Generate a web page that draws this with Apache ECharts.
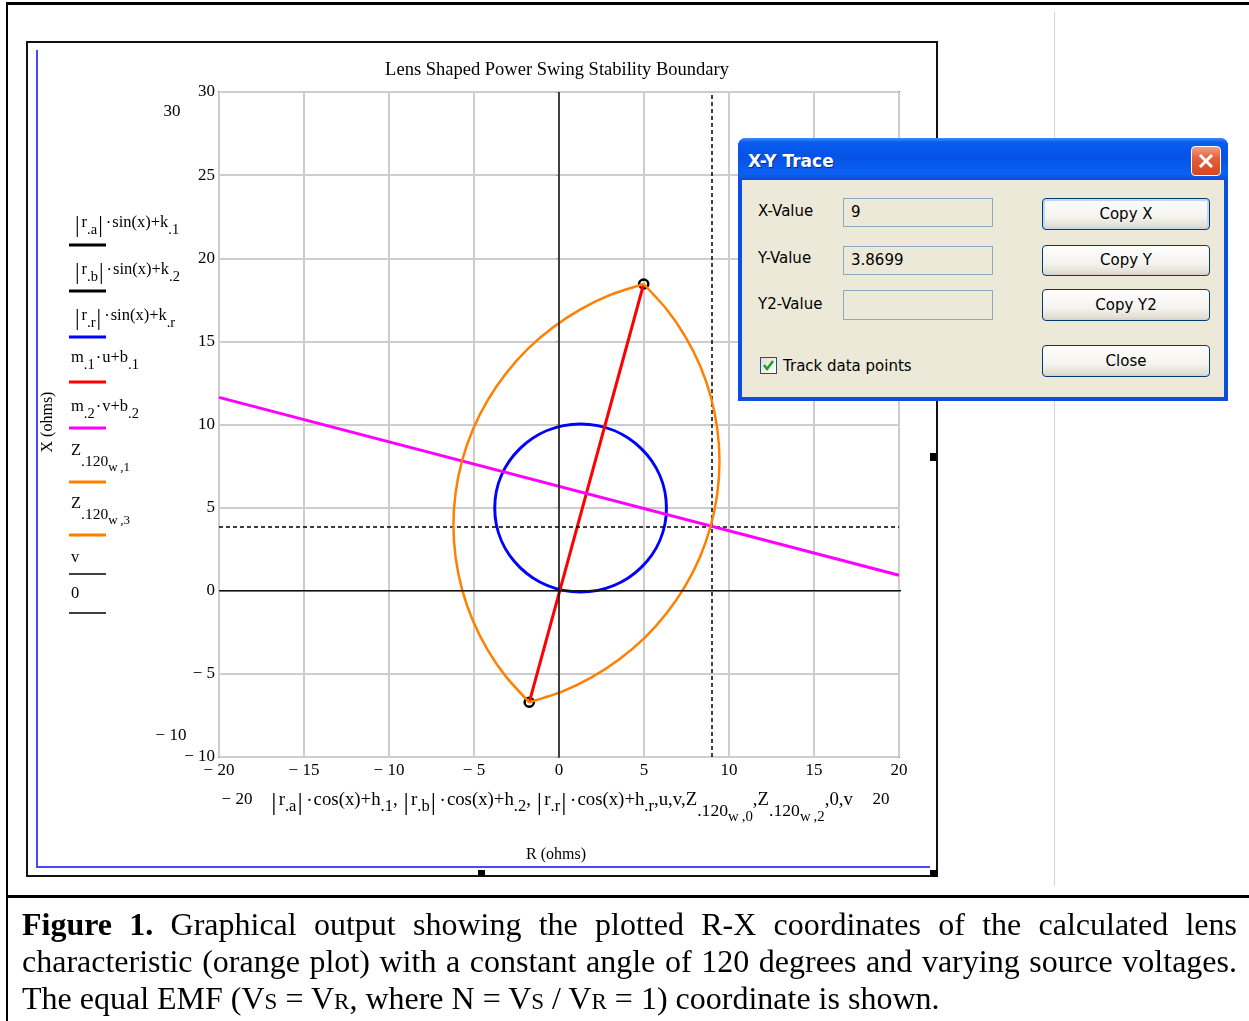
<!DOCTYPE html>
<html><head><meta charset="utf-8">
<script src="https://cdn.jsdelivr.net/npm/echarts@6/dist/echarts.min.js"></script>
<style>
html,body{margin:0;padding:0;background:#fff;width:1249px;height:1021px;overflow:hidden;}
#chart{position:absolute;left:0;top:0;width:1249px;height:1021px;}
#cap{position:absolute;left:22px;top:906px;width:1215px;font-family:'Liberation Serif','Times New Roman',serif;font-size:32px;color:#000;}
#cap .ln{height:37px;line-height:37px;white-space:nowrap;}
#cap .j{text-align:justify;text-align-last:justify;}
#cap .sc{font-size:0.72em;}
#dlg{position:absolute;left:738px;top:138px;width:490px;height:263px;background:#0b4fe0;border-radius:8px 8px 0 0;font-family:'DejaVu Sans',Tahoma,sans-serif;font-size:15px;color:#000;}
#dlg .tb{position:absolute;left:0;top:0;width:490px;height:42px;border-radius:8px 8px 0 0;
 background:linear-gradient(to bottom,#3d8cff 0%,#0a5cf0 10%,#0553e6 45%,#0b61f3 85%,#0a4ed8 100%);}
#dlg .tt{position:absolute;left:10px;top:13px;color:#fff;font-weight:bold;font-size:17px;text-shadow:1px 1px 0 #0a2a90;}
#dlg .cls{position:absolute;left:453px;top:8px;width:28px;height:28px;border:1px solid #fff;border-radius:4px;
 background:linear-gradient(to bottom,#f0a080 0%,#e3603a 40%,#d4481e 100%);}
#dlg .body{position:absolute;left:4px;top:42px;width:482px;height:217px;background:#ece9d8;}
#dlg .lbl{position:absolute;left:20px;line-height:20px;}
#dlg .box{position:absolute;left:105px;width:150px;border:1px solid #8fa8c8;background:#ece9d8;line-height:27px;padding-left:7px;box-sizing:border-box;}
#dlg .btn{position:absolute;left:304px;width:168px;border:1px solid #003c74;border-radius:4px;box-sizing:border-box;text-align:center;
 background:linear-gradient(to bottom,#ffffff 0%,#f4f3ee 60%,#e3e0d5 90%,#d6d0c5 100%);}
#dlg .chk{position:absolute;left:22px;top:219px;width:17px;height:17px;border:1px solid #1c5180;box-sizing:border-box;background:linear-gradient(135deg,#dcdcd7,#fff);}
</style></head>
<body>
<div id="chart"></div>
<div id="dlg">
 <div class="tb"><span class="tt">X-Y Trace</span>
  <div class="cls"><svg width="28" height="28"><line x1="8" y1="8" x2="20" y2="20" stroke="#fff" stroke-width="3"/><line x1="20" y1="8" x2="8" y2="20" stroke="#fff" stroke-width="3"/></svg></div>
 </div>
 <div class="body"></div>
 <div class="lbl" style="top:63px">X-Value</div>
 <div class="lbl" style="top:110px">Y-Value</div>
 <div class="lbl" style="top:156px">Y2-Value</div>
 <div class="box" style="top:60px;height:29px">9</div>
 <div class="box" style="top:108px;height:29px">3.8699</div>
 <div class="box" style="top:152px;height:30px"></div>
 <div class="btn" style="top:60px;height:32px;line-height:30px;box-shadow:inset 0 0 0 2px #c2d6f5;">Copy X</div>
 <div class="btn" style="top:107px;height:31px;line-height:29px;">Copy Y</div>
 <div class="btn" style="top:151px;height:32px;line-height:30px;">Copy Y2</div>
 <div class="btn" style="top:207px;height:32px;line-height:30px;">Close</div>
 <div class="chk"><svg width="15" height="15"><polyline points="3,7 6,11 12,3" fill="none" stroke="#21a121" stroke-width="2.5"/></svg></div>
 <div class="lbl" style="left:45px;top:218px">Track data points</div>
</div>
<div id="cap">
 <div class="ln j"><b>Figure 1.</b> Graphical output showing the plotted R-X coordinates of the calculated lens</div>
 <div class="ln j">characteristic (orange plot) with a constant angle of 120 degrees and varying source voltages.</div>
 <div class="ln">The equal EMF (V<span class="sc">S</span> = V<span class="sc">R</span>, where N = V<span class="sc">S</span> / V<span class="sc">R</span> = 1) coordinate is shown.</div>
</div>
<script>
// ---------------- data ----------------
const xRange = [-20, 20];
const yRange = [-10, 30];
const tickStep = 5;
// small end circles |r_a|, |r_b| and the blue circle |r_r| : [h, k, r]
const circleA = [-1.75, -6.71, 0.27];
const circleB = [4.98, 18.45, 0.27];
const circleR = [1.27, 4.98, 5.05];
// red line m1*u+b1
const redU = [-1.75, 4.98];
const redY = [-6.71, 18.45];
// magenta line m2*v+b2
const magV = [-20, 20];
const magY = [11.63, 0.93];
// orange lens, left arc (Z.120 w,0 ; Z.120 w,1)
const lensLeftX = [-1.75, -3.11, -4.20, -5.07, -5.70, -6.08, -6.21, -6.08, -5.70, -5.07, -4.20, -3.11, -1.82, -0.34, 1.29, 3.05, 4.98];
const lensLeftY = [-6.71, -5.18, -3.55, -1.79, 0.07, 1.99, 3.95, 5.91, 7.83, 9.69, 11.45, 13.08, 14.56, 15.85, 16.94, 17.81, 18.45];
// orange lens, right arc (Z.120 w,2 ; Z.120 w,3)
const lensRightX = [4.98, 6.34, 7.43, 8.30, 8.93, 9.31, 9.44, 9.31, 8.93, 8.30, 7.43, 6.34, 5.05, 3.57, 1.94, 0.18, -1.75];
const lensRightY = [18.45, 16.92, 15.29, 13.53, 11.67, 9.75, 7.79, 5.83, 3.91, 2.05, 0.29, -1.34, -2.82, -4.11, -5.20, -6.07, -6.71];
// range variable v (axis lines 0,v and v,0)
const vSpan = [-20, 30];
// X-Y trace cursor
const traceX = 9;
const traceY = 3.8699;

// legend / axis expressions (Mathcad notation: n normal, s subscript, z .120 subscript, w second-level subscript, b abs bar, d dot)
const legendLabels = [
  [['b', '|'], ['n', 'r'], ['s', '.a'], ['b', '|'], ['d', '\u00b7'], ['n', 'sin(x)+k'], ['s', '.1']],
  [['b', '|'], ['n', 'r'], ['s', '.b'], ['b', '|'], ['d', '\u00b7'], ['n', 'sin(x)+k'], ['s', '.2']],
  [['b', '|'], ['n', 'r'], ['s', '.r'], ['b', '|'], ['d', '\u00b7'], ['n', 'sin(x)+k'], ['s', '.r']],
  [['n', 'm'], ['s', '.1'], ['d', '\u00b7'], ['n', 'u+b'], ['s', '.1']],
  [['n', 'm'], ['s', '.2'], ['d', '\u00b7'], ['n', 'v+b'], ['s', '.2']],
  [['n', 'Z'], ['z', '.120'], ['w', 'w\u2009,1']],
  [['n', 'Z'], ['z', '.120'], ['w', 'w\u2009,3']],
  [['n', 'v']],
  [['n', '0']]
];
const xExpression = [
  ['b', '|'], ['n', 'r'], ['s', '.a'], ['b', '|'], ['d', '\u00b7'], ['n', 'cos(x)+h'], ['s', '.1'], ['n', ', '],
  ['b', '|'], ['n', 'r'], ['s', '.b'], ['b', '|'], ['d', '\u00b7'], ['n', 'cos(x)+h'], ['s', '.2'], ['n', ', '],
  ['b', '|'], ['n', 'r'], ['s', '.r'], ['b', '|'], ['d', '\u00b7'], ['n', 'cos(x)+h'], ['s', '.r'], ['n', ',u,v,Z'],
  ['z', '.120'], ['w', 'w\u2009,0'], ['n', ',Z'], ['z', '.120'], ['w', 'w\u2009,2'], ['n', ',0,v']
];
const legendColors = ['#000', '#000', '#0000ff', '#ff0000', '#ff00ff', '#ff8000', '#ff8000', '#000', '#000'];

// ---------------- layout / style ----------------
const SERIF = "'Liberation Serif','Times New Roman',serif";
const legendWidths = [3, 3, 3, 3, 3, 3, 3, 1.5, 1.5];
const legendTextY = [223, 270, 316, 358, 407, 451, 504, 558, 594];
const legendTextX = [74, 74, 74, 71, 71, 71, 71, 71, 71];
const legendLineY = [245, 291, 337, 382, 428, 482, 535, 574, 613];
const LV = {
  n: {size: 16.5, dy: 0, gl: 0, gr: 0},
  s: {size: 14.5, dy: 7, gl: 0, gr: 0},
  z: {size: 15.5, dy: 11, gl: 0, gr: 0},
  w: {size: 13, dy: 17, gl: 0, gr: 0},
  b: {size: 23, dy: 3, gl: 1, gr: 2},
  d: {size: 16.5, dy: 1, gl: 1, gr: 1}
};
const zip = (a, b) => a.map((v, i) => [v, b[i]]);
const fmt = v => (v < 0 ? '\u2212 ' + (-v) : String(v));
const mctx = document.createElement('canvas').getContext('2d');
function tw(t, size) { mctx.font = size + "px 'Liberation Serif'"; return mctx.measureText(t).width; }
function mathRow(out, x, cy, parts, k) {
  k = k || 1;
  let cx = x;
  parts.forEach(([lv, t]) => {
    const L = LV[lv];
    const sz = L.size * k;
    cx += L.gl * k;
    out.push({type: 'text', x: cx, y: cy + L.dy, silent: true,
      style: {text: t, font: sz + 'px ' + SERIF, fill: '#000', align: 'left', verticalAlign: 'middle'}});
    cx += tw(t, sz) + L.gr * k;
  });
  return cx - x;
}

const gfx = [];
// page frame
gfx.push({type: 'rect', shape: {x: 7, y: 2, width: 1242, height: 3}, style: {fill: '#000'}});
gfx.push({type: 'rect', shape: {x: 6, y: 2, width: 2, height: 1019}, style: {fill: '#000'}});
gfx.push({type: 'rect', shape: {x: 7, y: 895, width: 1242, height: 3}, style: {fill: '#000'}});
gfx.push({type: 'line', shape: {x1: 1054.5, y1: 12, x2: 1054.5, y2: 886}, style: {stroke: '#d4d4d4', lineWidth: 1}});
// Mathcad region frame
gfx.push({type: 'rect', shape: {x: 27, y: 42, width: 910, height: 834}, style: {fill: 'none', stroke: '#111', lineWidth: 2}});
gfx.push({type: 'line', shape: {x1: 37, y1: 50, x2: 37, y2: 868}, style: {stroke: '#4848ff', lineWidth: 2}});
gfx.push({type: 'line', shape: {x1: 37, y1: 867, x2: 930, y2: 867}, style: {stroke: '#4848ff', lineWidth: 2}});
gfx.push({type: 'rect', shape: {x: 930, y: 453, width: 6, height: 8}, style: {fill: '#000'}});
gfx.push({type: 'rect', shape: {x: 478, y: 870, width: 7, height: 6}, style: {fill: '#000'}});
gfx.push({type: 'rect', shape: {x: 930, y: 870, width: 7, height: 7}, style: {fill: '#000'}});
// title and axis titles
gfx.push({type: 'text', x: 557, y: 70, style: {text: 'Lens Shaped Power Swing Stability Boundary', font: '18.5px ' + SERIF, fill: '#000', align: 'center', verticalAlign: 'middle'}});
gfx.push({type: 'text', x: 48, y: 422, rotation: Math.PI / 2, style: {text: 'X (ohms)', font: '16px ' + SERIF, fill: '#000', align: 'center', verticalAlign: 'middle'}});
gfx.push({type: 'text', x: 556, y: 855, style: {text: 'R (ohms)', font: '16px ' + SERIF, fill: '#000', align: 'center', verticalAlign: 'middle'}});
// axis limit fields
gfx.push({type: 'text', x: 172, y: 112, style: {text: fmt(yRange[1]), font: '17px ' + SERIF, fill: '#000', align: 'center', verticalAlign: 'middle'}});
gfx.push({type: 'text', x: 171, y: 736, style: {text: fmt(yRange[0]), font: '17px ' + SERIF, fill: '#000', align: 'center', verticalAlign: 'middle'}});
gfx.push({type: 'text', x: 237, y: 800, style: {text: fmt(xRange[0]), font: '17px ' + SERIF, fill: '#000', align: 'center', verticalAlign: 'middle'}});
gfx.push({type: 'text', x: 881, y: 800, style: {text: fmt(xRange[1]), font: '17px ' + SERIF, fill: '#000', align: 'center', verticalAlign: 'middle'}});
mathRow(gfx, 270, 800, xExpression, 1.14);
// legend expressions and line samples
legendLabels.forEach((parts, i) => {
  mathRow(gfx, legendTextX[i], legendTextY[i], parts, 1);
  gfx.push({type: 'line', shape: {x1: 69, y1: legendLineY[i], x2: 106, y2: legendLineY[i]}, style: {stroke: legendColors[i], lineWidth: legendWidths[i]}});
});

function circleSeries(name, c, color, width, z) {
  return {
    type: 'custom', name: name, coordinateSystem: 'cartesian2d', z: z, clip: true,
    data: [c], encode: {x: 0, y: 1},
    renderItem: (params, api) => {
      const ctr = api.coord([api.value(0), api.value(1)]);
      const sz = api.size([api.value(2), api.value(2)], [api.value(0), api.value(1)]);
      return {type: 'ellipse', shape: {cx: ctr[0], cy: ctr[1], rx: sz[0], ry: sz[1]},
        style: {fill: null, stroke: color, lineWidth: width}};
    }
  };
}
function lineSeries(name, data, color, width, z, extra) {
  return Object.assign({type: 'line', name: name, data: data, symbol: 'none', showSymbol: false,
    clip: true, z: z, lineStyle: {color: color, width: width}, itemStyle: {color: color}}, extra || {});
}

const chart = echarts.init(document.getElementById('chart'));
chart.setOption({
  animation: false,
  graphic: gfx,
  grid: {left: 219, top: 92, width: 680, height: 665, show: true, borderColor: '#1a1a1a', borderWidth: 1.5},
  xAxis: {type: 'value', min: xRange[0], max: xRange[1], interval: tickStep,
    axisLine: {show: false}, axisTick: {show: false},
    splitLine: {show: true, lineStyle: {color: '#cdcdcd', width: 2}},
    axisLabel: {formatter: fmt, fontFamily: SERIF, fontSize: 17, color: '#000', margin: 5, showMinLabel: true, showMaxLabel: true}},
  yAxis: {type: 'value', min: yRange[0], max: yRange[1], interval: tickStep,
    axisLine: {show: false}, axisTick: {show: true, length: 3, lineStyle: {color: '#aaa'}},
    splitLine: {show: true, lineStyle: {color: '#cdcdcd', width: 2}},
    axisLabel: {formatter: fmt, fontFamily: SERIF, fontSize: 17, color: '#000', margin: 4, showMinLabel: true, showMaxLabel: true}},
  series: [
    circleSeries('|r.a|', circleA, '#000', 2.5, 2),
    circleSeries('|r.b|', circleB, '#000', 2.5, 2),
    circleSeries('|r.r|', circleR, '#0000ff', 3, 3),
    lineSeries('m.1 u+b.1', zip(redU, redY), '#ff0000', 3, 4),
    lineSeries('m.2 v+b.2', zip(magV, magY), '#ff00ff', 3, 5),
    lineSeries('Z.120 w,1', zip(lensLeftX, lensLeftY), '#ff8000', 2.5, 6, {smooth: 0.2}),
    lineSeries('Z.120 w,3', zip(lensRightX, lensRightY), '#ff8000', 2.5, 6, {smooth: 0.2}),
    lineSeries('v', vSpan.map(v => [0, v]), '#111', 1.5, 7),
    lineSeries('0', vSpan.map(v => [v, 0]), '#111', 1.5, 7, {
      markLine: {silent: true, symbol: 'none', label: {show: false},
        lineStyle: {color: '#000', width: 1.5, type: [4, 3]},
        data: [{xAxis: traceX}, {yAxis: traceY}]}
    })
  ]
});
</script>
</body></html>
